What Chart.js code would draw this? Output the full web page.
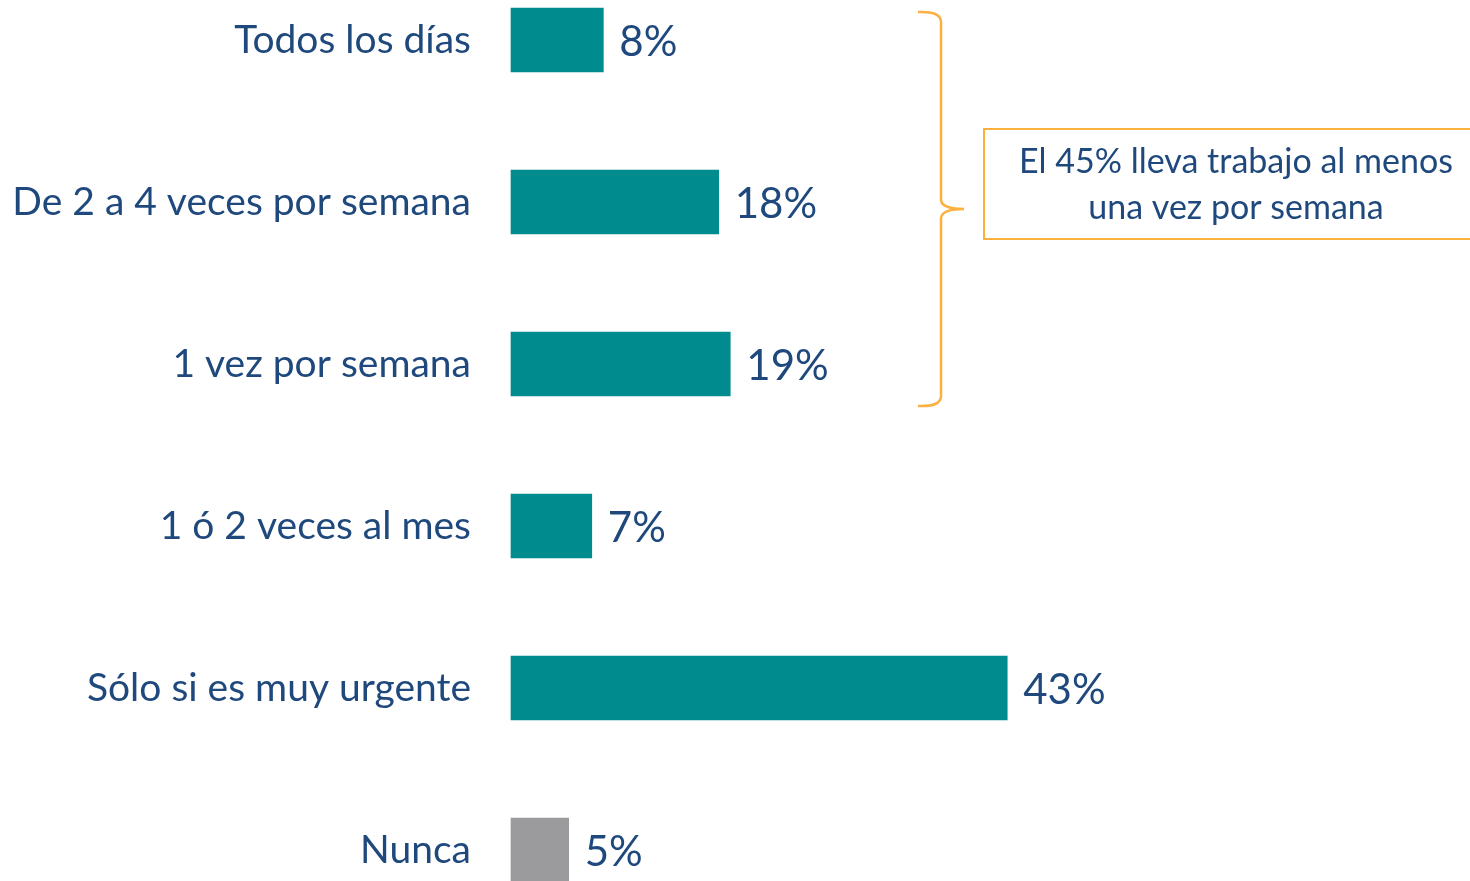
<!DOCTYPE html>
<html>
<head>
<meta charset="utf-8">
<script src="https://cdn.jsdelivr.net/npm/chart.js@4.4.1/dist/chart.umd.min.js"></script>
<style>
  html, body { margin: 0; padding: 0; background: #fff; }
  #wrap { position: relative; width: 1470px; height: 881px; }
</style>
</head>
<body>
<div id="wrap"><canvas id="chart"></canvas></div>
<script>
// datos
const categories = ['Todos los días', 'De 2 a 4 veces por semana', '1 vez por semana', '1 ó 2 veces al mes', 'Sólo si es muy urgente', 'Nunca'];
const values = [8, 18, 19, 7, 43, 5];
const barColors = ['#008B8F', '#008B8F', '#008B8F', '#008B8F', '#008B8F', '#9B9B9D'];
const noteLines = ['El 45% lleva trabajo al menos', 'una vez por semana'];

const textColor = '#1F497D';
const orange = '#FBB040';
const fontFamily = 'Lato, "Open Sans", sans-serif';
const labelSize = 39;

// etiquetas de valor al final de cada barra
const valueLabels = {
    id: 'valueLabels',
    afterDatasetsDraw(chart) {
        const ctx = chart.ctx;
        const meta = chart.getDatasetMeta(0);
        ctx.save();
        ctx.font = '42px ' + fontFamily;
        ctx.fillStyle = textColor;
        ctx.textAlign = 'left';
        ctx.textBaseline = 'middle';
        meta.data.forEach((bar, i) => {
            ctx.fillText(values[i] + '%', bar.x + 16, bar.y + 2);
        });
        ctx.restore();
    }
};

// llave naranja y cuadro de nota
const braceNote = {
    id: 'braceNote',
    afterDraw(chart) {
        const ctx = chart.ctx;
        const y = chart.scales.y;
        const top = y.getPixelForValue(0) - 28;
        const bottom = y.getPixelForValue(2) + 42;
        const mid = 209;
        ctx.save();
        ctx.strokeStyle = orange;
        ctx.lineWidth = 2.5;
        ctx.beginPath();
        ctx.moveTo(918, top);
        ctx.quadraticCurveTo(941, top - 1, 941, top + 10);
        ctx.lineTo(941, mid - 9);
        ctx.quadraticCurveTo(942, mid, 964, mid);
        ctx.moveTo(964, mid);
        ctx.quadraticCurveTo(942, mid, 941, mid + 9);
        ctx.lineTo(941, bottom - 10);
        ctx.quadraticCurveTo(941, bottom + 1, 918, bottom);
        ctx.stroke();

        ctx.lineWidth = 2;
        ctx.strokeRect(984, 129, 520, 110);

        ctx.font = '34px ' + fontFamily;
        ctx.fillStyle = textColor;
        ctx.textAlign = 'center';
        ctx.textBaseline = 'middle';
        ctx.fillText(noteLines[0], 1236, 162);
        ctx.fillText(noteLines[1], 1236, 208);
        ctx.restore();
    }
};

new Chart(document.getElementById('chart'), {
    type: 'bar',
    data: {
        labels: categories,
        datasets: [{
            data: values,
            backgroundColor: barColors,
            barThickness: 64,
            clip: false
        }]
    },
    options: {
        indexAxis: 'y',
        responsive: true,
        maintainAspectRatio: false,
        animation: false,
        layout: { padding: { top: 40, bottom: 31, left: 0, right: 0 } },
        plugins: {
            legend: { display: false },
            tooltip: { enabled: false }
        },
        scales: {
            x: { display: false, min: 0, max: 83.1 },
            y: {
                offset: false,
                border: { display: false },
                grid: { display: false },
                ticks: {
                    color: textColor,
                    padding: 32,
                    font: { family: fontFamily, size: labelSize }
                },
                afterFit(scale) {
                    scale.width = 511;
                    scale.paddingTop = 0;
                    scale.paddingBottom = 0;
                }
            }
        }
    },
    plugins: [valueLabels, braceNote]
});
</script>
</body>
</html>
